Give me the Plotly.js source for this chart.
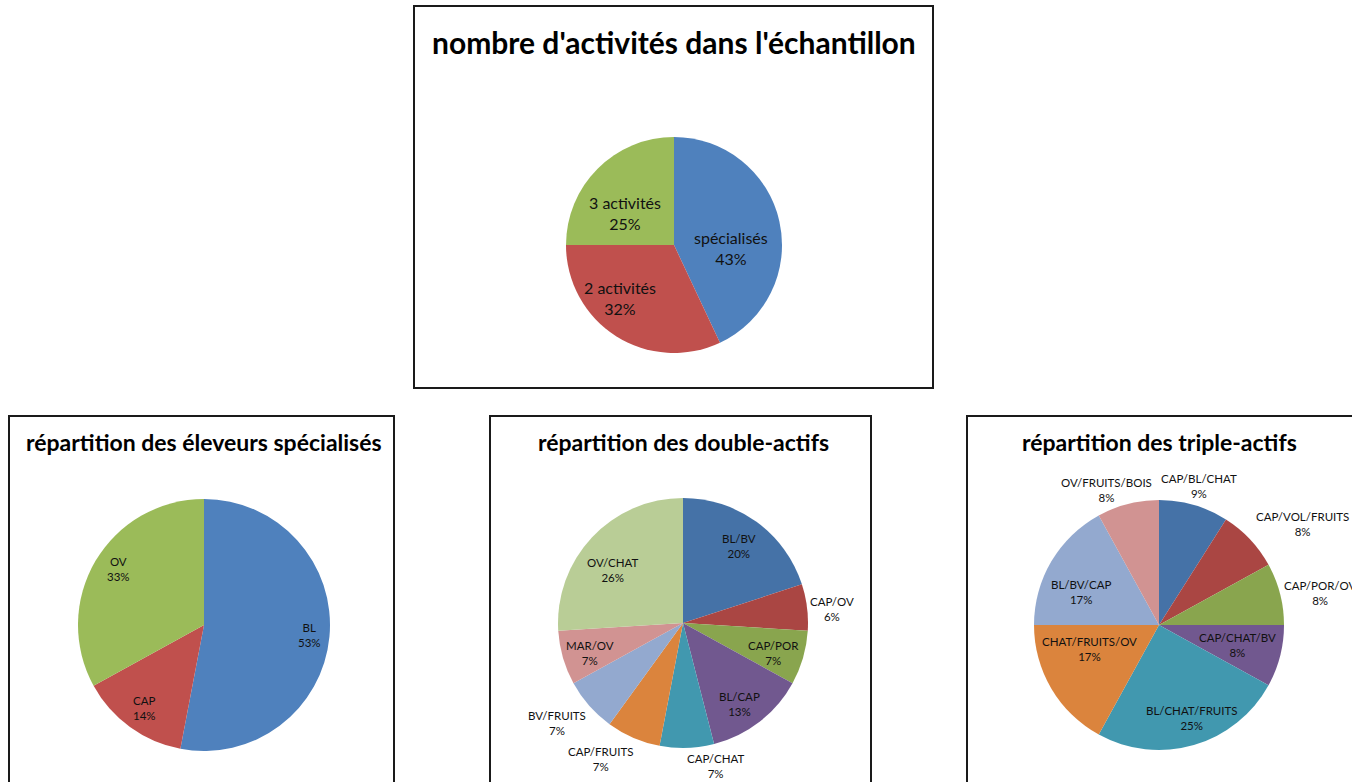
<!DOCTYPE html>
<html>
<head>
<meta charset="utf-8">
<script src="https://cdn.plot.ly/plotly-3.0.1.min.js"></script>
<style>html,body{margin:0;padding:0;background:#fff;}#chart{width:1352px;height:782px;}</style>
</head>
<body>
<div id="chart"></div>
<script>
// ---- data ----
const topTitle = "nombre d'activités dans l'échantillon";
const topLabels = ["spécialisés", "2 activités", "3 activités"];
const topValues = [43, 32, 25];

const specTitle = "répartition des éleveurs spécialisés";
const specLabels = ["BL", "CAP", "OV"];
const specValues = [53, 14, 33];

const doubleTitle = "répartition des double-actifs";
const doubleLabels = ["BL/BV", "CAP/OV", "CAP/POR", "BL/CAP", "CAP/CHAT", "CAP/FRUITS", "BV/FRUITS", "MAR/OV", "OV/CHAT"];
const doubleValues = [20, 6, 7, 13, 7, 7, 7, 7, 26];

const tripleTitle = "répartition des triple-actifs";
const tripleLabels = ["CAP/BL/CHAT", "CAP/VOL/FRUITS", "CAP/POR/OV", "CAP/CHAT/BV", "BL/CHAT/FRUITS", "CHAT/FRUITS/OV", "BL/BV/CAP", "OV/FRUITS/BOIS"];
const tripleValues = [9, 8, 8, 8, 25, 17, 17, 8];

// ---- styling / layout ----
const W = 1352, H = 782;
const FONT = "Lato, 'Open Sans', sans-serif";

const c3 = ["#4F81BD", "#C0504D", "#9BBB59"];
const c9 = ["#4572A7", "#AA4643", "#89A54E", "#71588F", "#4198AF", "#DB843D", "#93A9CF", "#D19392", "#B9CD96"];
const c8 = ["#4572A7", "#AA4643", "#89A54E", "#71588F", "#4198AF", "#DB843D", "#93A9CF", "#D19392"];

// pie geometry (pixel centre and radius) and label placement style
// (label radius as fraction of pie radius, and angular nudge from slice middle, degrees)
const charts = [
  {labels: topLabels, values: topValues, colors: c3, cx: 674, cy: 245, r: 108, font: 16,
   k: [0.53, 0.70, 0.54], shift: [16, 13, -12]},
  {labels: specLabels, values: specValues, colors: c3, cx: 204, cy: 625, r: 126, font: 11.5,
   k: [0.84, 0.81, 0.81], shift: [0, 0, 3]},
  {labels: doubleLabels, values: doubleValues, colors: c9, cx: 683, cy: 623, r: 125, font: 11.5,
   k: [0.76, 1.2, 0.76, 0.79, 1.17, 1.27, 1.29, 0.78, 0.70], shift: [0, 2, 2, 3, -11, 8, 3, -2, -6]},
  {labels: tripleLabels, values: tripleValues, colors: c8, cx: 1159, cy: 625, r: 125, font: 11.5,
   k: [1.16, 1.4, 1.31, 0.65, 0.79, 0.59, 0.68, 1.16], shift: [0, 8, 3, 0, -3, 12, -8, -7]}
];

function px(x) { return x / W; }
function py(y) { return 1 - y / H; }

const traces = [];
const annotations = [];
charts.forEach(function (c) {
  traces.push({
    type: "pie", labels: c.labels, values: c.values, sort: false,
    direction: "clockwise", rotation: 0,
    marker: {colors: c.colors, line: {width: 0}},
    textinfo: "none",
    domain: {x: [px(c.cx - c.r), px(c.cx + c.r)], y: [py(c.cy + c.r), py(c.cy - c.r)]},
    showlegend: false, hoverinfo: "none"
  });
  const total = c.values.reduce(function (a, b) { return a + b; }, 0);
  let cum = 0;
  c.values.forEach(function (v, i) {
    const mid = (cum + v / 2) / total * 360 + c.shift[i];
    cum += v;
    const a = mid * Math.PI / 180;
    const lx = c.cx + c.k[i] * c.r * Math.sin(a);
    const ly = c.cy - c.k[i] * c.r * Math.cos(a);
    annotations.push({
      xref: "paper", yref: "paper", x: px(lx), y: py(ly), xanchor: "center", yanchor: "middle",
      text: c.labels[i] + "<br>" + Math.round(v / total * 100) + "%",
      showarrow: false, align: "center",
      font: {family: FONT, size: c.font, color: "#111"}
    });
  });
});

function box(x0, y0, x1, y1) {
  return {type: "rect", xref: "paper", yref: "paper", x0: px(x0), x1: px(x1), y0: py(y1), y1: py(y0),
          line: {color: "#1a1a1a", width: 2}, fillcolor: "rgba(0,0,0,0)", layer: "above"};
}
function title(text, x, y, size) {
  return {xref: "paper", yref: "paper", x: px(x), y: py(y), xanchor: "center", yanchor: "middle",
          text: "<b>" + text + "</b>", showarrow: false, font: {family: FONT, size: size, color: "#000"}};
}

annotations.push(title(topTitle, 674, 42, 30));
annotations.push(title(specTitle, 204, 442, 23));
annotations.push(title(doubleTitle, 683, 442, 23));
annotations.push(title(tripleTitle, 1159, 442, 23));

const layout = {
  width: W, height: H, margin: {l: 0, r: 0, t: 0, b: 0},
  paper_bgcolor: "#fff", plot_bgcolor: "#fff",
  shapes: [box(414, 6, 933, 388), box(9, 416, 394, 800), box(490, 416, 871, 800), box(967, 416, 1370, 800)],
  annotations: annotations
};

Plotly.newPlot("chart", traces, layout, {staticPlot: true, displayModeBar: false});
</script>
</body>
</html>
